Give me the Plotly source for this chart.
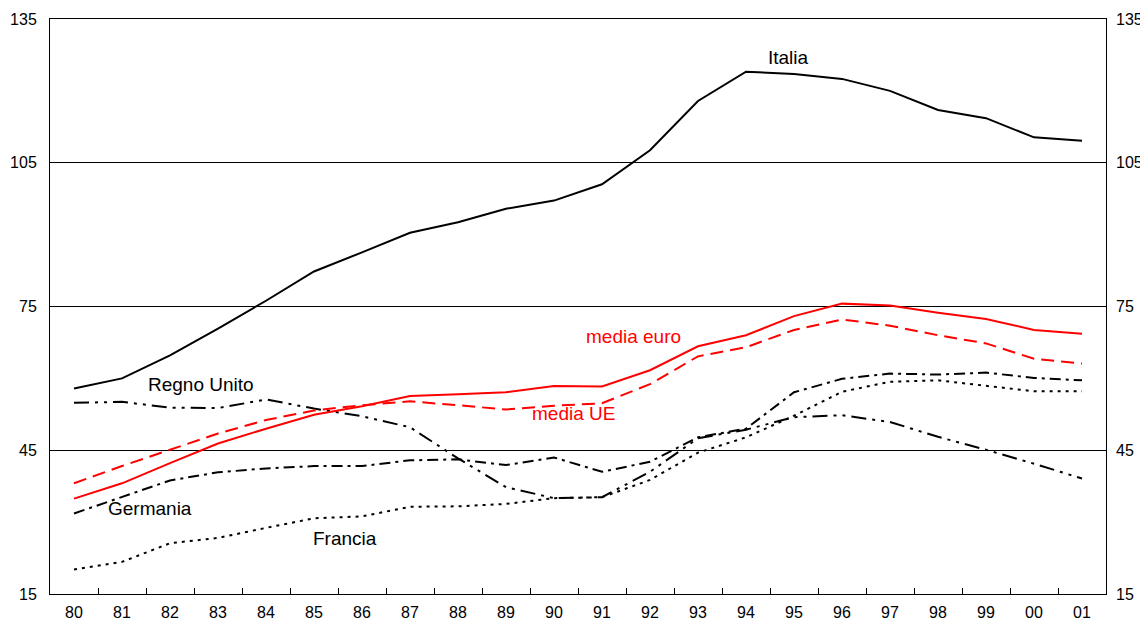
import plotly.graph_objects as go

years = ["80","81","82","83","84","85","86","87","88","89","90",
         "91","92","93","94","95","96","97","98","99","00","01"]

italia = [57.9, 60.0, 64.8, 70.4, 76.2, 82.3, 86.3, 90.4, 92.6, 95.4, 97.1,
          100.5, 107.6, 117.9, 124.0, 123.5, 122.5, 120.0, 116.0, 114.3, 110.3, 109.6]
media_euro = [34.9, 38.1, 42.3, 46.4, 49.5, 52.4, 54.2, 56.3, 56.7, 57.1, 58.4,
              58.3, 61.7, 66.7, 69.0, 73.0, 75.6, 75.2, 73.7, 72.4, 70.1, 69.3]
media_ue = [38.1, 41.7, 45.1, 48.5, 51.3, 53.3, 54.4, 55.2, 54.4, 53.5, 54.3,
            54.8, 58.8, 64.6, 66.5, 70.1, 72.3, 71.0, 69.0, 67.3, 64.1, 63.1]
regno_unito = [54.9, 55.1, 53.9, 53.8, 55.6, 53.7, 52.1, 49.8, 43.3, 37.3, 35.0,
               35.2, 40.5, 47.5, 49.3, 51.9, 52.3, 50.9, 47.8, 45.1, 42.2, 39.1]
germania = [31.8, 35.3, 38.7, 40.4, 41.2, 41.7, 41.7, 42.9, 43.1, 41.9, 43.5,
            40.5, 42.6, 47.7, 49.5, 57.1, 59.9, 61.0, 60.8, 61.2, 60.1, 59.6]
francia = [20.1, 21.7, 25.6, 26.7, 28.8, 30.8, 31.2, 33.2, 33.3, 33.8, 35.0,
           35.2, 38.8, 44.5, 47.7, 52.2, 57.2, 59.3, 59.6, 58.5, 57.3, 57.3]

y_ticks = [15, 45, 75, 105, 135]

fig = go.Figure()

def add(y, color, dash, name):
    fig.add_trace(go.Scatter(x=years, y=y, mode="lines", name=name,
                             line=dict(color=color, width=2, dash=dash),
                             showlegend=False, hoverinfo="skip"))

add(francia, "black", "3px,5px", "Francia")
add(germania, "black", "11px,5px,3px,5px", "Germania")
add(regno_unito, "black", "15px,6px,3px,6px,3px,6px", "Regno Unito")
add(media_ue, "#ff0000", "13px,7px", "media UE")
add(media_euro, "#ff0000", "solid", "media euro")
add(italia, "black", "solid", "Italia")

# invisible trace on right axis
fig.add_trace(go.Scatter(x=years, y=italia, yaxis="y2", mode="lines",
                         line=dict(width=0), opacity=0, showlegend=False,
                         hoverinfo="skip"))

# page offset (body margin) is 8px
OFF = 8
W, H = 1140, 618
L, R, T, B = 42, 42, 11, 32
PL, PT = L + OFF, T + OFF
PW, PH = W - L - R, H - T - B

labels = [
    ("Italia", 788, 57, "black"),
    ("Regno Unito", 201, 384, "black"),
    ("Germania", 150, 508, "black"),
    ("Francia", 345, 538, "black"),
    ("media euro", 633, 336, "#ff0000"),
    ("media UE", 573, 413, "#ff0000"),
]
for text, px, py, col in labels:
    fig.add_annotation(text=text, xref="paper", yref="paper",
                       x=(px - PL) / PW, y=1 - (py - PT) / PH,
                       showarrow=False, xanchor="center", yanchor="middle",
                       font=dict(family="Liberation Sans, Arial, sans-serif",
                                 size=19, color=col))

font = dict(family="Liberation Sans, Arial, sans-serif", size=16, color="black")

fig.update_layout(
    width=W, height=H,
    margin=dict(l=L, r=R, t=T, b=B),
    paper_bgcolor="white", plot_bgcolor="white",
    font=font,
    xaxis=dict(type="category", range=[-0.5, 21.5], tickson="boundaries",
               ticks="inside", ticklen=6, tickcolor="black", tickwidth=1,
               showgrid=False, showline=True, linecolor="black", linewidth=1,
               mirror=True, tickfont=font, zeroline=False,
               ticklabelstandoff=4, automargin=False),
    yaxis=dict(range=[15, 135], tickvals=y_ticks, showgrid=True,
               gridcolor="black", gridwidth=1, showline=True,
               linecolor="black", linewidth=1, mirror=True, ticks="",
               tickfont=font, zeroline=False, ticklabelstandoff=9,
               automargin=False),
    yaxis2=dict(range=[15, 135], tickvals=y_ticks, overlaying="y",
                side="right", showgrid=False, showline=False, ticks="",
                tickfont=font, zeroline=False, ticklabelstandoff=9,
                automargin=False),
)

fig.write_html("out.html")
